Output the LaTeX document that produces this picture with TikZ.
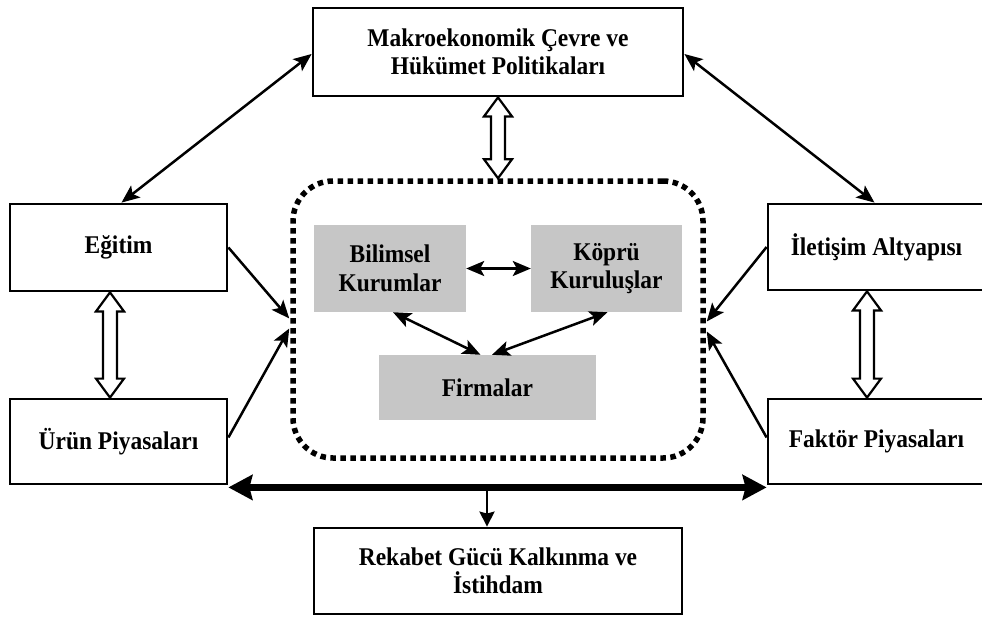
\documentclass[tikz,border=0pt]{standalone}
\usepackage{fontspec}
\setmainfont{Liberation Serif}[FakeStretch=0.92]
\usetikzlibrary{arrows.meta,calc}
\newcommand\hollowarr[2]{%
  \draw[line width=2.2pt, fill=white, line join=miter]
    let \p1=#1, \p2=#2 in
    (\x1,\y1) -- (\x1+14pt,\y1-19pt) -- (\x1+7pt,\y1-19pt) -- (\x1+7pt,\y2+19pt)
    -- (\x1+14pt,\y2+19pt) -- (\x1,\y2) -- (\x1-14pt,\y2+19pt) -- (\x1-7pt,\y2+19pt)
    -- (\x1-7pt,\y1-19pt) -- (\x1-14pt,\y1-19pt) -- cycle;}
\begin{document}
\begin{tikzpicture}[x=1pt,y=-1pt,
  txt/.style={font=\bfseries\fontsize{25.5}{28.5}\selectfont, align=center, inner sep=0pt},
  box/.style={txt, draw, line width=2.8pt},
  gbox/.style={txt, fill=gray!45},
  dotbox/.style={draw, line width=5.5pt, dash pattern=on 5.5pt off 4.5pt, rounded corners=40pt},
  biarr/.style={line width=2.5pt, {Stealth[length=18pt,width=15pt,inset=4pt]}-{Stealth[length=18pt,width=15pt,inset=4pt]}},
  onearr/.style={line width=2.5pt, -{Stealth[length=18pt,width=15pt,inset=4pt]}},
  bigarr/.style={line width=7.5pt, {Stealth[length=24pt,width=25pt,inset=3pt]}-{Stealth[length=24pt,width=25pt,inset=3pt]}}
]
\useasboundingbox[fill=white] (0,0) rectangle (982,616);

% outer boxes
\node[box, minimum width=370pt, minimum height=88pt] (top) at (498,52) {Makroekonomik Çevre ve\\Hükümet Politikaları};
\node[box, minimum width=217pt, minimum height=87pt] (egitim) at (118.5,247.5) {Eğitim};
\node[box, minimum width=217pt, minimum height=85pt] (urun) at (118.5,441.5) {Ürün Piyasaları};
\node[box, minimum width=217pt, minimum height=86pt] (iletisim) at (876.5,247) {İletişim Altyapısı};
\node[box, minimum width=217pt, minimum height=85pt] (faktor) at (876.5,441.5) {Faktör Piyasaları};
\node[box, minimum width=368pt, minimum height=86pt] (bot) at (498,571) {Rekabet Gücü Kalkınma ve\\İstihdam};

% dotted inner frame
\node[dotbox, minimum width=410pt, minimum height=277pt] (inn) at (498,319.5) {};

% inner gray boxes
\node[gbox, minimum width=152pt, minimum height=87pt] (bil) at (390,268.5) {Bilimsel\\Kurumlar};
\node[gbox, minimum width=151pt, minimum height=87pt] (kop) at (606.5,268.5) {Köprü\\Kuruluşlar};
\node[gbox, minimum width=217pt, minimum height=65pt] (fir) at (487.5,387.5) {Firmalar};

% inner arrows
\draw[biarr] (bil.east) -- (kop.east -| kop.west);
\draw[biarr] ([xshift=3pt]bil.south) -- ([xshift=-7pt]fir.north);
\draw[biarr] ([xshift=1pt]kop.south) -- ([xshift=4.5pt]fir.north);

% diagonal top arrows
\draw[biarr] ([yshift=-2pt]top.west) -- ([xshift=3pt]egitim.north);
\draw[biarr] ([yshift=-2pt]top.east) -- ([xshift=-2pt]iletisim.north);

% arrows into the frame
\draw[onearr] (egitim.east) -- ($(inn.west)+(-1,-1)$);
\draw[onearr] ([yshift=4pt]urun.east) -- ($(inn.west)+(-1,9)$);
\draw[onearr] (iletisim.west) -- ($(inn.east)+(1,2)$);
\draw[onearr] ([yshift=4pt]faktor.west) -- ($(inn.east)+(1,12)$);

% hollow double arrows
\hollowarr{(top.south)}{(inn.north)}
\hollowarr{([xshift=-8.5pt]egitim.south)}{([xshift=-8.5pt]urun.north)}
\hollowarr{([xshift=-9.5pt]iletisim.south)}{([xshift=-9.5pt]faktor.north)}

% bottom thick arrow and down arrow
\draw[bigarr] ([yshift=-2pt]urun.south east) -- ([yshift=-2pt]faktor.south west);
\coordinate (j) at (487,486);
\draw[line width=2.5pt, -{Stealth[length=15pt,width=15pt,inset=2pt]}] (j) -- (j |- bot.north);
\end{tikzpicture}
\end{document}
